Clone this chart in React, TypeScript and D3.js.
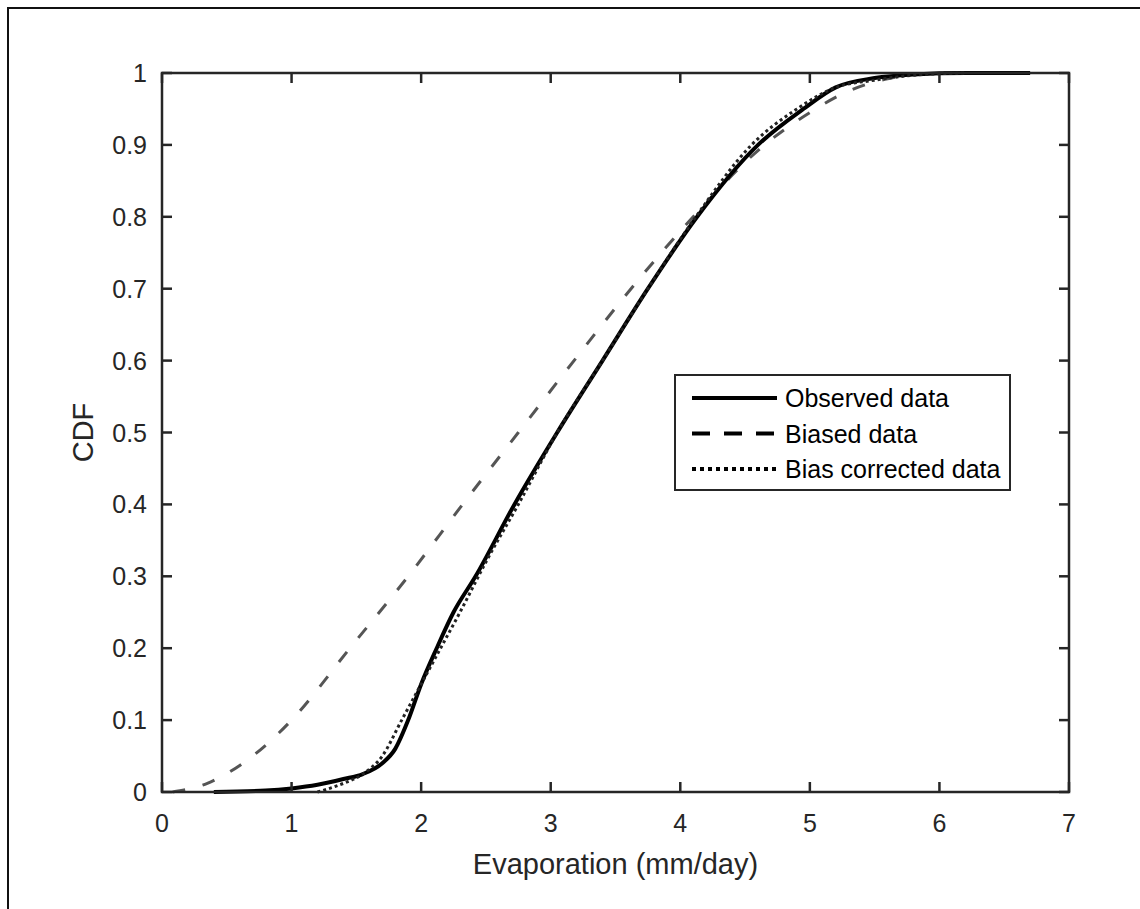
import React, { useEffect, useRef } from 'react'
import * as d3 from 'd3'

const observedX = [0.4, 0.8, 1.0, 1.2, 1.4, 1.55, 1.7, 1.8, 1.9, 2.0, 2.12, 2.25, 2.42, 2.72, 3.05, 3.4, 3.75, 4.13, 4.6, 4.95, 5.2, 5.5, 5.8, 6.2, 6.7]
const observedY = [0, 0.002, 0.005, 0.01, 0.018, 0.025, 0.04, 0.06, 0.1, 0.15, 0.2, 0.25, 0.3, 0.4, 0.5, 0.6, 0.7, 0.8, 0.9, 0.95, 0.98, 0.993, 0.998, 1.0, 1.0]

// Biased data
const biasedX = [0.08, 0.35, 0.6, 0.8, 1.0, 1.45, 1.9, 2.32, 2.75, 3.18, 3.62, 4.1, 4.65, 5.0, 5.3, 5.6, 6.0, 6.5]
const biasedY = [0, 0.012, 0.037, 0.065, 0.1, 0.2, 0.3, 0.4, 0.5, 0.6, 0.7, 0.8, 0.9, 0.945, 0.975, 0.992, 1.0, 1.0]

// Bias corrected data
const correctedX = [1.2, 1.4, 1.55, 1.7, 1.85, 2.0, 2.15, 2.3, 2.5, 2.75, 3.05, 3.4, 3.75, 4.12, 4.55, 4.9, 5.2, 5.5, 5.8, 6.2]
const correctedY = [0, 0.012, 0.025, 0.05, 0.1, 0.15, 0.2, 0.25, 0.32, 0.4, 0.5, 0.6, 0.7, 0.8, 0.9, 0.95, 0.98, 0.99, 0.997, 1.0]

const xTicks = [0, 1, 2, 3, 4, 5, 6, 7]
const yTicks = [0, 0.1, 0.2, 0.3, 0.4, 0.5, 0.6, 0.7, 0.8, 0.9, 1]
const legendLabels = ['Observed data', 'Biased data', 'Bias corrected data']

const FONT = "'Liberation Sans', Arial, Helvetica, sans-serif"
const AXIS_COLOR = '#262626'

export default function App() {
  const svgRef = useRef<SVGSVGElement | null>(null)

  useEffect(() => {
    const totalW = 1140
    const totalH = 909
    const left = 162
    const right = 1069
    const top = 73
    const bottom = 792

    const svg = d3.select(svgRef.current)
    svg.selectAll('*').remove()
    svg.attr('width', totalW).attr('height', totalH)

    svg.append('rect').attr('width', totalW).attr('height', totalH).attr('fill', '#fff')

    // outer frame (right and bottom edges fall outside the picture)
    svg
      .append('rect')
      .attr('x', 8)
      .attr('y', 8)
      .attr('width', 1300)
      .attr('height', 1100)
      .attr('fill', 'none')
      .attr('stroke', '#111')
      .attr('stroke-width', 2)

    const x = d3.scaleLinear().domain([0, 7]).range([left, right])
    const y = d3.scaleLinear().domain([0, 1]).range([bottom, top])

    const line = d3
      .line<[number, number]>()
      .x(d => x(d[0]))
      .y(d => y(d[1]))
      .curve(d3.curveMonotoneX)

    const zip = (xs: number[], ys: number[]) => xs.map((v, i) => [v, ys[i]] as [number, number])

    const g = svg.append('g')

    // biased (dashed)
    g.append('path')
      .datum(zip(biasedX, biasedY))
      .attr('d', line)
      .attr('fill', 'none')
      .attr('stroke', '#555')
      .attr('stroke-width', 3)
      .attr('stroke-dasharray', '13,18')

    // observed (solid)
    g.append('path')
      .datum(zip(observedX, observedY))
      .attr('d', line)
      .attr('fill', 'none')
      .attr('stroke', '#000')
      .attr('stroke-width', 4)

    // bias corrected (dotted)
    g.append('path')
      .datum(zip(correctedX, correctedY))
      .attr('d', line)
      .attr('fill', 'none')
      .attr('stroke', '#222')
      .attr('stroke-width', 3)
      .attr('stroke-dasharray', '3,3')

    // axes box
    svg
      .append('rect')
      .attr('x', left)
      .attr('y', top)
      .attr('width', right - left)
      .attr('height', bottom - top)
      .attr('fill', 'none')
      .attr('stroke', AXIS_COLOR)
      .attr('stroke-width', 2.5)

    const tickLen = 10
    const axes = svg.append('g').attr('stroke', AXIS_COLOR).attr('stroke-width', 2.5)
    xTicks.forEach(t => {
      axes.append('line').attr('x1', x(t)).attr('x2', x(t)).attr('y1', bottom).attr('y2', bottom - tickLen)
      axes.append('line').attr('x1', x(t)).attr('x2', x(t)).attr('y1', top).attr('y2', top + tickLen)
    })
    yTicks.forEach(t => {
      axes.append('line').attr('x1', left).attr('x2', left + tickLen).attr('y1', y(t)).attr('y2', y(t))
      axes.append('line').attr('x1', right).attr('x2', right - tickLen).attr('y1', y(t)).attr('y2', y(t))
    })

    const labels = svg
      .append('g')
      .attr('font-family', FONT)
      .attr('font-size', 25)
      .attr('fill', AXIS_COLOR)

    labels
      .selectAll('text.xt')
      .data(xTicks)
      .enter()
      .append('text')
      .attr('x', d => x(d))
      .attr('y', bottom + 40)
      .attr('text-anchor', 'middle')
      .text(d => d3.format('')(d))

    labels
      .selectAll('text.yt')
      .data(yTicks)
      .enter()
      .append('text')
      .attr('x', left - 15)
      .attr('y', d => y(d) + 9)
      .attr('text-anchor', 'end')
      .text(d => d3.format('')(d))

    labels
      .append('text')
      .attr('x', (left + right) / 2)
      .attr('y', 874)
      .attr('text-anchor', 'middle')
      .attr('font-size', 29)
      .text('Evaporation (mm/day)')

    labels
      .append('text')
      .attr('transform', `translate(93, ${(top + bottom) / 2}) rotate(-90)`)
      .attr('text-anchor', 'middle')
      .attr('font-size', 29)
      .text('CDF')

    // legend
    const lg = svg.append('g')
    lg.append('rect')
      .attr('x', 675)
      .attr('y', 375)
      .attr('width', 335)
      .attr('height', 115)
      .attr('fill', '#fff')
      .attr('stroke', AXIS_COLOR)
      .attr('stroke-width', 2)

    const dashes = [null, '18,14', '4,4']
    const widths = [4, 4, 4]
    legendLabels.forEach((name, i) => {
      const ly = 398 + i * 35.5
      lg.append('line')
        .attr('x1', 692)
        .attr('x2', 777)
        .attr('y1', ly)
        .attr('y2', ly)
        .attr('stroke', '#000')
        .attr('stroke-width', widths[i])
        .attr('stroke-dasharray', dashes[i])
      lg.append('text')
        .attr('x', 785)
        .attr('y', ly + 9)
        .attr('font-family', FONT)
        .attr('font-size', 25)
        .attr('fill', '#000')
        .text(name)
    })
  }, [])

  return (
    <div style={{ position: 'absolute', left: 0, top: 0 }}>
      <svg ref={svgRef} style={{ display: 'block' }} />
    </div>
  )
}
